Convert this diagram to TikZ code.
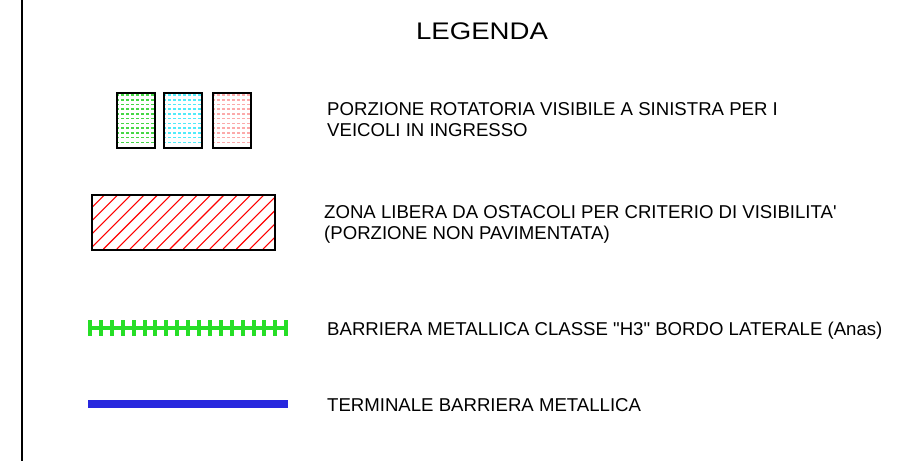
\documentclass[tikz,border=0pt]{standalone}
\usepackage{graphicx}
\usepackage{fontspec}
\setmainfont{Liberation Sans}[Ligatures=TeXOff]
\usetikzlibrary{positioning}
\definecolor{verdebarriera}{RGB}{38,222,38}
\definecolor{bluterminale}{RGB}{40,40,222}
\definecolor{verdepunti}{RGB}{70,215,70}
\definecolor{cianopunti}{RGB}{80,235,250}
\definecolor{rosapunti}{RGB}{252,170,170}
\tikzstyle{riquadro} = [draw=black, line width=2pt, inner sep=0pt, anchor=north west]
\tikzstyle{voce} = [anchor=base west, inner sep=0pt, align=left, font=\fontsize{18.6}{21}\selectfont]
\tikzstyle{puntini} = [line width=1.6pt, dash pattern=on 2.5pt off 2.5pt]
\tikzstyle{tratteggio} = [red, line width=1.1pt]

\begin{document}
\begin{tikzpicture}[x=1pt,y=-1pt]
                \useasboundingbox (0,0) rectangle (900,461);
                \draw [line width=2pt] (22,0) -- (22,461);
                \node (titolo) at (482,39) [anchor=base, inner sep=0pt, font=\fontsize{24}{28}\selectfont] {\scalebox{1.15}[1]{LEGENDA}};

                % porzione rotatoria
                \foreach \x/\c [count=\i] in {116/verdepunti,163/cianopunti,212/rosapunti} {
                    \begin{scope}
                        \clip (\x,92) rectangle ++(38,55);
                        \foreach \y in {95,99.73,...,143}
                            \draw [puntini, \c] (\x,\y) -- ++(38,0);
                    \end{scope}
                    \node (rot\i) [riquadro, minimum width=38pt, minimum height=55pt] at (\x,92) {};
                }

                % zona libera
                \begin{scope}
                    \clip (91,194) rectangle (274,249);
                    \foreach \s in {37,50.3,...,280}
                        \draw [tratteggio] (\s,249) -- ++(55,-55);
                \end{scope}
                \node (zona) [riquadro, minimum width=183pt, minimum height=55pt] at (91,194) {};

                % barriera
                \coordinate (barrieraA) at (88,328);
                \coordinate (barrieraB) at (288,328);
                \draw [verdebarriera, line width=4pt] (barrieraA) -- (barrieraB);
                \foreach \k in {0,...,18}
                    \draw [verdebarriera, line width=4pt] ({90+10.9*\k},320) -- ++(0,16);

                % terminale
                \coordinate (terminaleA) at (88,404);
                \coordinate (terminaleB) at (288,404);
                \draw [bluterminale, line width=8pt] (terminaleA) -- (terminaleB);

                \node (testoRot) [voce] at (327,136.5) {PORZIONE ROTATORIA VISIBILE A SINISTRA PER I\\VEICOLI IN INGRESSO};
                \node (testoZona) [voce] at (324,239.5) {ZONA LIBERA DA OSTACOLI PER CRITERIO DI VISIBILITA'\\(PORZIONE NON PAVIMENTATA)};
                \node (testoBarr) [voce] at (327,335.5) {BARRIERA METALLICA CLASSE "H3" BORDO LATERALE (Anas)};
                \node (testoTerm) [voce] at (327,411) {TERMINALE BARRIERA METALLICA};
            \end{tikzpicture}
\end{document}
